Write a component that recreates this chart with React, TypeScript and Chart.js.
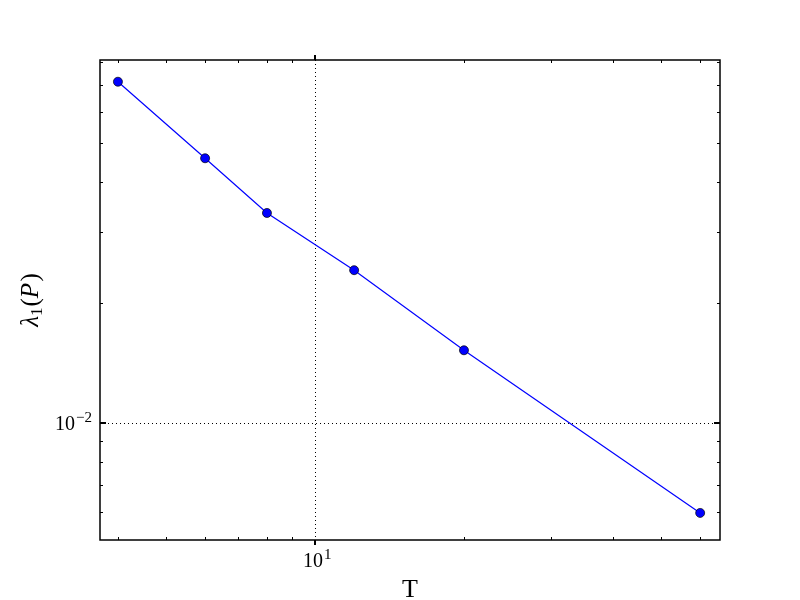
import React, { useEffect, useRef } from "react";
import { Chart, registerables } from "chart.js";

Chart.register(...registerables);

// ---- data ----
const tValues = [4, 6, 8, 12, 20, 60];
const lambdaValues = [0.0713, 0.0459, 0.0335, 0.0241, 0.0152, 0.00596];

// axis ranges
const xMin = 3.68;
const xMax = 65.8;
const yMin = 0.0051;
const yMax = 0.0808;

// ticks
const xMajorTicks = [10];
const xMajorLabels = [["10", "1"]];
const xMinorTicks = [4, 5, 6, 7, 8, 9, 20, 30, 40, 50, 60];
const yMajorTicks = [0.01];
const yMajorLabels = [["10", "\u22122"]];
const yMinorTicks = [0.006, 0.007, 0.008, 0.009, 0.02, 0.03, 0.04, 0.05, 0.06, 0.07, 0.08];

const xTitle = "T";

const SERIF = "'Liberation Serif', 'DejaVu Serif', serif";

const axesPlugin = {
  id: "mplAxes",
  beforeDatasetsDraw(chart: any) {
    const { ctx, chartArea: a, scales } = chart;
    const xs = scales.x;
    const ys = scales.y;
    ctx.save();
    ctx.strokeStyle = "#000";
    ctx.lineWidth = 1;
    ctx.setLineDash([1, 3]);
    xMajorTicks.forEach((v) => {
      const px = Math.round(xs.getPixelForValue(v)) + 0.5;
      ctx.beginPath();
      ctx.moveTo(px, a.top);
      ctx.lineTo(px, a.bottom);
      ctx.stroke();
    });
    yMajorTicks.forEach((v) => {
      const py = Math.round(ys.getPixelForValue(v)) + 0.5;
      ctx.beginPath();
      ctx.moveTo(a.left, py);
      ctx.lineTo(a.right, py);
      ctx.stroke();
    });
    ctx.restore();
  },
  afterDraw(chart: any) {
    const { ctx, chartArea: a, scales } = chart;
    const xs = scales.x;
    const ys = scales.y;
    ctx.save();
    ctx.setLineDash([]);
    ctx.strokeStyle = "#000";

    // minor ticks (inward)
    ctx.lineWidth = 1;
    xMinorTicks.forEach((v) => {
      const px = Math.round(xs.getPixelForValue(v)) + 0.5;
      ctx.beginPath();
      ctx.moveTo(px, a.top);
      ctx.lineTo(px, a.top + 3);
      ctx.moveTo(px, a.bottom);
      ctx.lineTo(px, a.bottom - 3);
      ctx.stroke();
    });
    yMinorTicks.forEach((v) => {
      const py = Math.round(ys.getPixelForValue(v)) + 0.5;
      ctx.beginPath();
      ctx.moveTo(a.left, py);
      ctx.lineTo(a.left + 3, py);
      ctx.moveTo(a.right, py);
      ctx.lineTo(a.right - 3, py);
      ctx.stroke();
    });

    // major ticks
    ctx.lineWidth = 2;
    xMajorTicks.forEach((v) => {
      const px = Math.round(xs.getPixelForValue(v));
      ctx.beginPath();
      ctx.moveTo(px, a.top);
      ctx.lineTo(px, a.top - 5);
      ctx.moveTo(px, a.bottom);
      ctx.lineTo(px, a.bottom + 5);
      ctx.stroke();
    });
    yMajorTicks.forEach((v) => {
      const py = Math.round(ys.getPixelForValue(v));
      ctx.beginPath();
      ctx.moveTo(a.left, py);
      ctx.lineTo(a.left + 6, py);
      ctx.moveTo(a.right, py);
      ctx.lineTo(a.right - 6, py);
      ctx.stroke();
    });

    // frame
    ctx.lineWidth = 1.5;
    ctx.strokeRect(Math.round(a.left), Math.round(a.top), a.right - a.left, a.bottom - a.top);

    // tick labels with superscripts
    ctx.fillStyle = "#000";
    ctx.textBaseline = "alphabetic";
    const baseFont = `20px ${SERIF}`;
    const supFont = `15px ${SERIF}`;
    const measure = (b: string, e: string) => {
      ctx.font = baseFont;
      const wb = ctx.measureText(b).width;
      ctx.font = supFont;
      const we = ctx.measureText(e).width;
      return { wb, we };
    };
    const drawPow = (b: string, e: string, left: number, baseline: number) => {
      const { wb } = measure(b, e);
      ctx.textAlign = "left";
      ctx.font = baseFont;
      ctx.fillText(b, left, baseline);
      ctx.font = supFont;
      ctx.fillText(e, left + wb + 1, baseline - 8);
    };
    xMajorTicks.forEach((v, i) => {
      const [b, e] = xMajorLabels[i];
      const px = xs.getPixelForValue(v);
      const { wb } = measure(b, e);
      drawPow(b, e, px - wb / 2 - 2, a.bottom + 27);
    });
    yMajorTicks.forEach((v, i) => {
      const [b, e] = yMajorLabels[i];
      const py = ys.getPixelForValue(v);
      const { wb, we } = measure(b, e);
      drawPow(b, e, a.left - 8 - (wb + we + 1), py + 7);
    });

    // x title
    ctx.font = `26px ${SERIF}`;
    ctx.textAlign = "center";
    ctx.fillText(xTitle, (a.left + a.right) / 2, 597);

    // y title: λ1(P)
    ctx.save();
    ctx.translate(38, (a.top + a.bottom) / 2);
    ctx.rotate(-Math.PI / 2);
    const parts: [string, string, number][] = [
      ["\u03BB", `italic 25px ${SERIF}`, 0],
      ["1", `17px ${SERIF}`, 4],
      ["(", `25px ${SERIF}`, 0],
      ["P", `italic 25px ${SERIF}`, 0],
      [")", `25px ${SERIF}`, 0],
    ];
    let total = 0;
    const widths = parts.map(([t, f]) => {
      ctx.font = f;
      const w = ctx.measureText(t).width + (t === "P" ? 1.5 : 0) + (t === "1" ? 1 : 0);
      total += w;
      return w;
    });
    let cx = -total / 2;
    ctx.textAlign = "left";
    parts.forEach(([t, f, dy], i) => {
      ctx.font = f;
      ctx.fillText(t, cx, dy);
      cx += widths[i];
    });
    ctx.restore();

    ctx.restore();
  },
};

export default function App() {
  const canvasRef = useRef<HTMLCanvasElement | null>(null);

  useEffect(() => {
    const canvas = canvasRef.current;
    if (!canvas) return;
    const chart = new Chart(canvas, {
      type: "line",
      data: {
        datasets: [
          {
            data: tValues.map((t, i) => ({ x: t, y: lambdaValues[i] })),
            borderColor: "#0000ff",
            borderWidth: 1.2,
            backgroundColor: "#0000ff",
            pointRadius: 4.5,
            pointBackgroundColor: "#0000ff",
            pointBorderColor: "#000000",
            pointBorderWidth: 0.7,
            tension: 0,
            fill: false,
          },
        ],
      },
      options: {
        animation: false,
        responsive: false,
        devicePixelRatio: 1,
        layout: { padding: { left: 100, right: 80, top: 60, bottom: 60 } },
        plugins: {
          legend: { display: false },
          tooltip: { enabled: false },
        },
        scales: {
          x: { type: "logarithmic", min: xMin, max: xMax, display: false },
          y: { type: "logarithmic", min: yMin, max: yMax, display: false },
        },
      },
      plugins: [axesPlugin],
    });
    return () => chart.destroy();
  }, []);

  return (
    <div style={{ position: "fixed", left: 0, top: 0, width: 800, height: 600, background: "#fff" }}>
      <canvas ref={canvasRef} width={800} height={600} style={{ width: 800, height: 600 }} />
    </div>
  );
}
